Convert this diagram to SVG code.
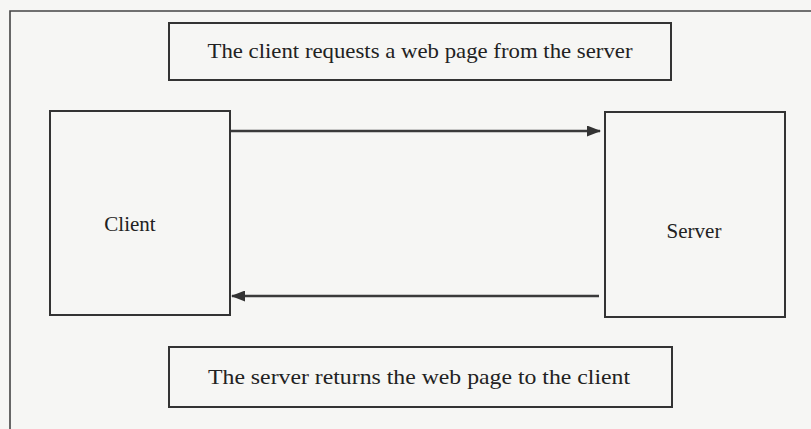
<svg xmlns="http://www.w3.org/2000/svg" width="811" height="429" viewBox="0 0 811 429">
  <style>
    .box { fill: none; stroke: #333; stroke-width: 2; }
    .frame { fill: none; stroke: #444; stroke-width: 1.6; }
    .lbl { font-family: "Liberation Serif", "DejaVu Serif", serif; fill: #222; text-anchor: middle; }
    .conn { stroke: #3a3a3a; stroke-width: 2.4; fill: none; }
  </style>
  <defs>
    <marker id="arrow" viewBox="0 0 14 11" refX="13" refY="5.5" markerWidth="14" markerHeight="11" markerUnits="userSpaceOnUse" orient="auto">
      <path d="M0,0 L14,5.5 L0,11 Z" fill="#333"/>
    </marker>
  </defs>
  <rect x="0" y="0" width="811" height="429" fill="#f6f6f4"/>
  <g id="frame">
    <path class="frame" d="M10,429 L10,11 L811,11"/>
  </g>
  <g id="request-label">
    <rect class="box" x="169" y="23" width="502" height="57"/>
    <text class="lbl" x="420" y="58" font-size="22" textLength="425" lengthAdjust="spacingAndGlyphs">The client requests a web page from the server</text>
  </g>
  <g id="client">
    <rect class="box" x="50" y="111" width="180" height="204"/>
    <text class="lbl" x="130" y="231" font-size="21">Client</text>
  </g>
  <g id="server">
    <rect class="box" x="605" y="112" width="180" height="205"/>
    <text class="lbl" x="694" y="238" font-size="21">Server</text>
  </g>
  <g id="response-label">
    <rect class="box" x="169" y="347" width="503" height="60"/>
    <text class="lbl" x="419" y="384" font-size="22" textLength="422" lengthAdjust="spacingAndGlyphs">The server returns the web page to the client</text>
  </g>
  <g id="connectors">
    <line class="conn" x1="231" y1="131" x2="600" y2="131" marker-end="url(#arrow)"/>
    <line class="conn" x1="599" y1="296" x2="232" y2="296" marker-end="url(#arrow)"/>
  </g>
</svg>
